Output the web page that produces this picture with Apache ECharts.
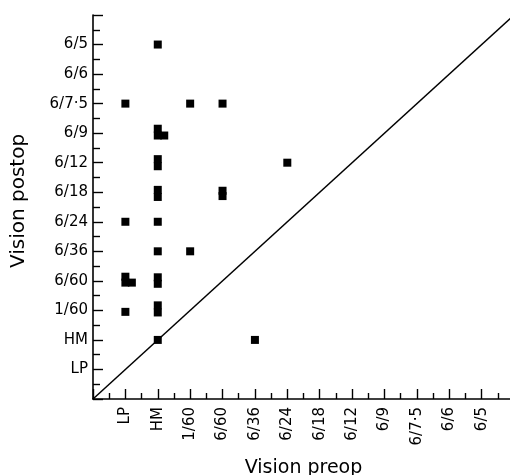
<!DOCTYPE html>
<html>
<head>
<meta charset="utf-8">
<script src="https://cdn.jsdelivr.net/npm/echarts@6/dist/echarts.min.js"></script>
<style>
html,body{margin:0;padding:0;background:#fff;}
#chart{width:510px;height:475px;}
</style>
</head>
<body>
<div id="chart"></div>
<script>
// Visual acuity categories (index 1..12); index 0 and 13 are unlabeled axis ends
const acuityLabels = ["", "LP", "HM", "1/60", "6/60", "6/36", "6/24", "6/18", "6/12", "6/9", "6/7·5", "6/6", "6/5", ""];

// Patients: preop acuity index (x) and postop acuity index (y);
// small fractional offsets reproduce the side-by-side stacking of coincident patients
const preop  = [2, 1, 3, 4, 2, 2, 2.2, 2, 2, 2, 2, 4, 4, 1, 2, 2, 3, 1, 1, 1.2, 2, 2, 1, 2, 2, 2, 5, 6];
const postop = [12, 10, 10, 10, 9.15, 8.92, 8.92, 8.12, 7.88, 7.08, 6.84, 7.05, 6.87, 6, 6, 5, 5, 4.14, 3.94, 3.94, 4.12, 3.9, 2.95, 3.17, 2.93, 2, 2, 8];

// Line of no change (preop = postop)
const identityLine = [[0, 0], [13, 13]];

const points = preop.map((x, i) => [x, postop[i]]);

const fontFamily = "'DejaVu Sans', sans-serif";
const labelFmt = v => acuityLabels[Math.round(v)] || "";

const chart = echarts.init(document.getElementById('chart'), null, {renderer: 'canvas'});
chart.setOption({
  animation: false,
  backgroundColor: '#fff',
  grid: {left: 93, top: 15, width: 421, height: 384, containLabel: false, outerBoundsMode: 'none'},
  xAxis: {
    type: 'value', min: 0, max: 13, interval: 1,
    name: 'Vision preop', nameLocation: 'middle', nameGap: 60,
    nameTextStyle: {fontFamily, fontSize: 19, color: '#000'},
    axisLine: {lineStyle: {color: '#000', width: 1.6}},
    axisTick: {inside: true, length: 10, lineStyle: {color: '#000', width: 1.4}},
    minorTick: {show: true, splitNumber: 2, length: 6, lineStyle: {color: '#000', width: 1.4}},
    axisLabel: {rotate: 90, margin: 8, formatter: labelFmt, fontFamily, fontSize: 15, color: '#000'},
    splitLine: {show: false}
  },
  yAxis: {
    type: 'value', min: 0, max: 13, interval: 1,
    name: 'Vision postop', nameLocation: 'middle', nameGap: 64, nameRotate: 90,
    nameTextStyle: {fontFamily, fontSize: 20, color: '#000', padding: [0, 0, 0, 12]},
    axisLine: {lineStyle: {color: '#000', width: 1.6}},
    axisTick: {inside: true, length: 10, lineStyle: {color: '#000', width: 1.4}},
    minorTick: {show: true, splitNumber: 2, length: 7, lineStyle: {color: '#000', width: 1.4}},
    axisLabel: {margin: 5, formatter: labelFmt, fontFamily, fontSize: 15, color: '#000'},
    splitLine: {show: false}
  },
  series: [
    {
      type: 'line', data: identityLine, symbol: 'none', clip: true,
      lineStyle: {color: '#000', width: 1.5}, silent: true
    },
    {
      type: 'scatter', data: points, symbol: 'rect', symbolSize: 8,
      itemStyle: {color: '#000', opacity: 1}
    }
  ]
});
</script>
</body>
</html>
